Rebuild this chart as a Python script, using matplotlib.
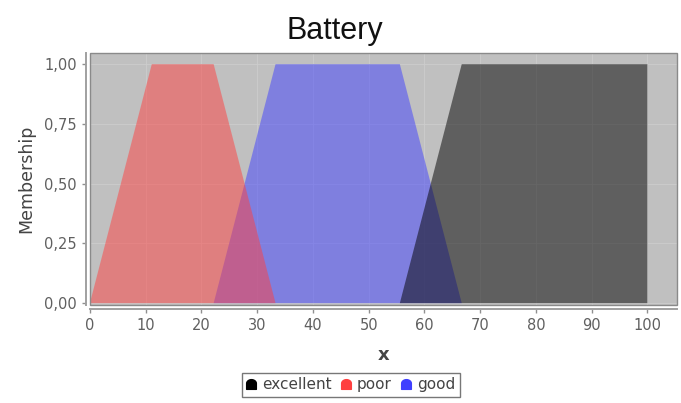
import matplotlib
matplotlib.use("Agg")
import matplotlib.pyplot as plt
from matplotlib.path import Path
from matplotlib.lines import Line2D
from matplotlib.patches import Rectangle
import numpy as np

# Data: trapezoid membership functions (x points, membership values)
series_names = ["excellent", "poor", "good"]
poor_x = [0, 11.1, 22.2, 33.3]
poor_y = [0, 1, 1, 0]
good_x = [22.2, 33.3, 55.6, 66.7]
good_y = [0, 1, 1, 0]
excellent_x = [55.6, 66.7, 100, 100]
excellent_y = [0, 1, 1, 0]
x_ticks = [0, 10, 20, 30, 40, 50, 60, 70, 80, 90, 100]
y_ticks = [0.0, 0.25, 0.5, 0.75, 1.0]
y_tick_labels = ["0,00", "0,25", "0,50", "0,75", "1,00"]

col_excellent = "#000000"
col_poor = "#ff4040"
col_good = "#4040ff"

fig = plt.figure(figsize=(6.81, 4.03), dpi=100)
ax = fig.add_axes([0.132, 0.243, 0.862, 0.625])
ax.set_facecolor("#c0c0c0")

ax.fill(good_x, good_y, color=col_good, alpha=0.5, lw=0, zorder=2)
ax.fill(poor_x, poor_y, color=col_poor, alpha=0.5, lw=0, zorder=3)
ax.fill(excellent_x, excellent_y, color=col_excellent, alpha=0.5, lw=0, zorder=4)

ax.set_xlim(0, 105.3)
ax.set_ylim(-0.008, 1.046)
ax.set_xticks(x_ticks)
ax.set_yticks(y_ticks)
ax.set_yticklabels(y_tick_labels)
ax.grid(True, color="#cdcdcd", lw=0.6, zorder=1)
ax.set_axisbelow(True)

for s in ["top", "right"]:
    ax.spines[s].set_visible(False)
for s in ["left", "bottom"]:
    ax.spines[s].set_position(("outward", 3))
    ax.spines[s].set_color("#a0a0a0")
    ax.spines[s].set_linewidth(1.4)
ax.add_patch(Rectangle((0, 0), 1, 1, transform=ax.transAxes, fill=False,
                       edgecolor="#8a8a8a", lw=1.0, zorder=6, clip_on=False))

ax.tick_params(colors="#909090", labelcolor="#606060", labelsize=10.5, length=3, width=1)
ax.set_ylabel("Membership", fontsize=12.5, color="#444444", labelpad=6)
ax.set_xlabel("x", fontsize=13, color="#444444", fontweight="bold", labelpad=9)
fig.text(0.491, 0.923, "Battery", fontsize=22, ha="center", va="center",
         color="#111111", family="Liberation Sans")

# dome-shaped legend markers
t = np.linspace(0, np.pi, 20)
verts = [(1, -1)] + [(np.cos(a), 0.2 + 0.8 * np.sin(a)) for a in t] + [(-1, -1), (1, -1)]
dome = Path(verts, closed=True)
handles = [Line2D([], [], marker=dome, linestyle="none", markersize=7,
                  markerfacecolor=c, markeredgecolor=c)
           for c in [col_excellent, col_poor, col_good]]
leg = fig.legend(handles, series_names, loc="center", bbox_to_anchor=(0.515, 0.045),
                 ncol=3, frameon=True, fancybox=False, fontsize=11,
                 handlelength=0.7, handletextpad=0.35, columnspacing=0.6,
                 borderpad=0.3, borderaxespad=0)
leg.get_frame().set_edgecolor("#555555")
leg.get_frame().set_linewidth(1.0)
for txt in leg.get_texts():
    txt.set_color("#444444")

fig.savefig("out.png", dpi=100)
